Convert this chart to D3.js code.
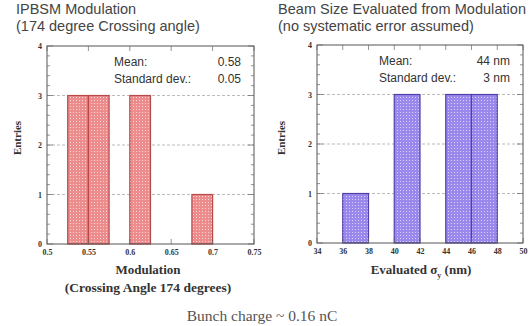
<!DOCTYPE html>
<html>
<head>
<meta charset="utf-8">
<script src="https://cdn.jsdelivr.net/npm/d3@7"></script>
<style>
  body { margin: 0; background: #fff; }
  svg { display: block; }
  .tick text { font-family: "Liberation Serif", serif; font-size: 8px; font-weight: bold; fill: #333; }
  .title { font-family: "Liberation Sans", Arial, sans-serif; font-size: 14.5px; fill: #444; }
  .stat { font-family: "Liberation Sans", Arial, sans-serif; font-size: 12px; fill: #333; }
  .axtitle { font-family: "Liberation Serif", serif; font-size: 13px; font-weight: bold; fill: #333; }
</style>
</head>
<body>
<svg id="chart"></svg>
<script>
// Left histogram: modulation (bin start, entries)
var modBins = [0.525, 0.55, 0.6, 0.675];
var modCounts = [3, 3, 3, 1];
var modBinWidth = 0.025;
var modTicks = [0.5, 0.55, 0.6, 0.65, 0.7, 0.75];
var modTickLabels = ["0.5", "0.55", "0.6", "0.65", "0.7", "0.75"];

// Right histogram: evaluated sigma_y (nm)
var sigBins = [36, 40, 44, 46];
var sigCounts = [1, 3, 3, 3];
var sigBinWidth = 2;
var sigTicks = [34, 36, 38, 40, 42, 44, 46, 48, 50];

var yTicks = [0, 1, 2, 3, 4];

var svg = d3.select("#chart").attr("width", 530).attr("height", 326);

// dotted fill patterns
var defs = svg.append("defs");
function makePattern(id, base, dot) {
  var p = defs.append("pattern")
    .attr("id", id)
    .attr("width", 3).attr("height", 3)
    .attr("patternUnits", "userSpaceOnUse");
  p.append("rect").attr("width", 3).attr("height", 3).attr("fill", base);
  p.append("rect").attr("x", 1).attr("y", 1).attr("width", 1).attr("height", 1).attr("fill", dot);
}
makePattern("redDots", "#ec8c8c", "#fad6d6");
makePattern("blueDots", "#9a88ec", "#d8d0fa");

function isWhole(d) { return Math.abs(d - Math.round(d)) < 1e-6; }

function drawPanel(opts) {
  var g = svg.append("g");
  var x = d3.scaleLinear().domain(opts.xDomain).range([opts.left, opts.right]);
  var y = d3.scaleLinear().domain([0, 4]).range([opts.bottom, opts.top]);

  // grid lines
  g.selectAll(".grid")
    .data([1, 2, 3])
    .enter().append("line")
    .attr("x1", opts.left).attr("x2", opts.right)
    .attr("y1", d => y(d)).attr("y2", d => y(d))
    .attr("stroke", "#aaa")
    .attr("stroke-width", 0.8)
    .attr("stroke-dasharray", "3,2");

  // bars
  g.selectAll(".bar")
    .data(opts.bins.map((b, i) => ({ x0: b, x1: b + opts.binWidth, n: opts.counts[i] })))
    .enter().append("rect")
    .attr("class", "bar")
    .attr("x", d => x(d.x0))
    .attr("y", d => y(d.n))
    .attr("width", d => x(d.x1) - x(d.x0))
    .attr("height", d => y(0) - y(d.n))
    .attr("fill", "url(#" + opts.pattern + ")")
    .attr("stroke", opts.stroke)
    .attr("stroke-width", 1.2);

  // frame
  g.append("rect")
    .attr("x", opts.left).attr("y", opts.top)
    .attr("width", opts.right - opts.left)
    .attr("height", opts.bottom - opts.top)
    .attr("fill", "none").attr("stroke", "#555").attr("stroke-width", 1);

  // minor ticks on y (inward, both sides)
  var minor = d3.range(0, 4.001, 0.2);
  g.selectAll(".myl").data(minor).enter().append("line")
    .attr("x1", opts.left).attr("x2", d => opts.left + (isWhole(d) ? 6 : 3))
    .attr("y1", d => y(d)).attr("y2", d => y(d))
    .attr("stroke", "#666").attr("stroke-width", 0.7);
  g.selectAll(".myr").data(minor).enter().append("line")
    .attr("x1", opts.right).attr("x2", d => opts.right - (isWhole(d) ? 6 : 3))
    .attr("y1", d => y(d)).attr("y2", d => y(d))
    .attr("stroke", "#666").attr("stroke-width", 0.7);

  // y axis labels
  g.append("g")
    .attr("transform", "translate(" + opts.left + ",0)")
    .call(d3.axisLeft(y).tickValues(yTicks).tickSize(0).tickPadding(5).tickFormat(d3.format("d")))
    .call(a => a.select(".domain").remove());

  // x axis
  g.append("g")
    .attr("transform", "translate(0," + opts.bottom + ")")
    .call(d3.axisBottom(x).tickValues(opts.xTicks).tickSize(0).tickPadding(5)
      .tickFormat((d, i) => opts.xLabels ? opts.xLabels[i] : d))
    .call(a => a.select(".domain").remove());
  // x ticks inward
  g.selectAll(".xt").data(opts.xTicks).enter().append("line")
    .attr("x1", d => x(d)).attr("x2", d => x(d))
    .attr("y1", opts.bottom).attr("y2", opts.bottom - 5)
    .attr("stroke", "#666").attr("stroke-width", 0.7);
  g.selectAll(".xtt").data(opts.xTicks).enter().append("line")
    .attr("x1", d => x(d)).attr("x2", d => x(d))
    .attr("y1", opts.top).attr("y2", opts.top + 5)
    .attr("stroke", "#666").attr("stroke-width", 0.7);

  // stats
  g.append("text").attr("class", "stat").attr("x", opts.statX).attr("y", opts.top + 20).text("Mean:");
  g.append("text").attr("class", "stat").attr("x", opts.statR).attr("y", opts.top + 20)
    .attr("text-anchor", "end").text(opts.mean);
  g.append("text").attr("class", "stat").attr("x", opts.statX).attr("y", opts.top + 37).text("Standard dev.: ");
  g.append("text").attr("class", "stat").attr("x", opts.statR).attr("y", opts.top + 37)
    .attr("text-anchor", "end").text(opts.sd);

  // titles
  var t1 = g.append("text").attr("class", "title").attr("x", opts.titleX).attr("y", 14).text(opts.title1);
  if (opts.title1Len) t1.attr("textLength", opts.title1Len).attr("lengthAdjust", "spacing");
  g.append("text").attr("class", "title").attr("x", opts.titleX).attr("y", 31).text(opts.title2);

  // y title
  g.append("text").attr("class", "axtitle")
    .style("font-size", "11px")
    .attr("transform", "translate(" + opts.entriesX + ",138) rotate(-90)")
    .attr("dy", "0.35em")
    .attr("text-anchor", "middle").text("Entries");
  return { x: x, y: y, g: g };
}

var p1 = drawPanel({
  left: 47, right: 254, top: 46, bottom: 244,
  xDomain: [0.5, 0.75], xTicks: modTicks, xLabels: modTickLabels,
  bins: modBins, counts: modCounts, binWidth: modBinWidth,
  pattern: "redDots", stroke: "#b84a4a",
  statX: 114, statR: 241, mean: "0.58", sd: "0.05",
  titleX: 16, title1: "IPBSM  Modulation", title2: "(174 degree Crossing angle)",
  entriesX: 17
});

var p2 = drawPanel({
  left: 317, right: 523, top: 45, bottom: 243,
  xDomain: [34, 50], xTicks: sigTicks,
  bins: sigBins, counts: sigCounts, binWidth: sigBinWidth,
  pattern: "blueDots", stroke: "#5040a8",
  statX: 379, statR: 510, mean: "44 nm", sd: "3 nm",
  titleX: 278, title1: "Beam Size Evaluated from Modulation", title1Len: 248,
  title2: "(no systematic error assumed)",
  entriesX: 281
});

p1.g.append("text").attr("class", "axtitle").attr("x", 148).attr("y", 274)
  .attr("text-anchor", "middle").text("Modulation");
p1.g.append("text").attr("class", "axtitle").attr("x", 148).attr("y", 292)
  .style("font-size", "13.5px")
  .attr("text-anchor", "middle").text("(Crossing Angle 174 degrees)");

var t = p2.g.append("text").attr("class", "axtitle").attr("x", 421).attr("y", 274)
  .attr("text-anchor", "middle");
t.append("tspan").text("Evaluated σ");
t.append("tspan").attr("dy", 4).attr("font-size", "8px").text("y");
t.append("tspan").attr("dy", -4).text(" (nm)");

svg.append("text")
  .attr("x", 262).attr("y", 321)
  .attr("text-anchor", "middle")
  .style("font-family", "Liberation Serif, serif")
  .style("font-size", "15.5px")
  .style("fill", "#555")
  .text("Bunch charge ~ 0.16 nC");
</script>
</body>
</html>
